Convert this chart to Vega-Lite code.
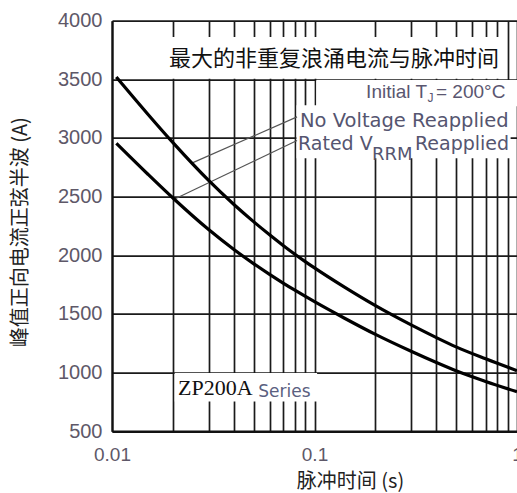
{
  "$schema": "https://vega.github.io/schema/vega-lite/v6.json",
  "autosize": "none",
  "width": 405,
  "height": 410.5,
  "padding": {"left": 112, "top": 20.7, "right": 0, "bottom": 61.8},
  "background": "white",
  "config": {"view": {"stroke": null}},
  "datasets": {
    "curves": [
      {"t": 0.0105, "a": 3520, "s": "No Voltage Reapplied"},
      {"t": 0.015, "a": 3205, "s": "No Voltage Reapplied"},
      {"t": 0.02, "a": 2960, "s": "No Voltage Reapplied"},
      {"t": 0.03, "a": 2638, "s": "No Voltage Reapplied"},
      {"t": 0.04, "a": 2433, "s": "No Voltage Reapplied"},
      {"t": 0.05, "a": 2287, "s": "No Voltage Reapplied"},
      {"t": 0.06, "a": 2175, "s": "No Voltage Reapplied"},
      {"t": 0.07, "a": 2084, "s": "No Voltage Reapplied"},
      {"t": 0.08, "a": 2009, "s": "No Voltage Reapplied"},
      {"t": 0.09, "a": 1946, "s": "No Voltage Reapplied"},
      {"t": 0.1, "a": 1892, "s": "No Voltage Reapplied"},
      {"t": 0.14, "a": 1730, "s": "No Voltage Reapplied"},
      {"t": 0.2, "a": 1570, "s": "No Voltage Reapplied"},
      {"t": 0.3, "a": 1406, "s": "No Voltage Reapplied"},
      {"t": 0.4, "a": 1298, "s": "No Voltage Reapplied"},
      {"t": 0.5, "a": 1219, "s": "No Voltage Reapplied"},
      {"t": 0.7, "a": 1117, "s": "No Voltage Reapplied"},
      {"t": 1.0, "a": 1016, "s": "No Voltage Reapplied"},
      {"t": 0.0105, "a": 2955, "s": "Rated VRRM Reapplied"},
      {"t": 0.015, "a": 2693, "s": "Rated VRRM Reapplied"},
      {"t": 0.02, "a": 2488, "s": "Rated VRRM Reapplied"},
      {"t": 0.03, "a": 2219, "s": "Rated VRRM Reapplied"},
      {"t": 0.04, "a": 2049, "s": "Rated VRRM Reapplied"},
      {"t": 0.05, "a": 1929, "s": "Rated VRRM Reapplied"},
      {"t": 0.06, "a": 1837, "s": "Rated VRRM Reapplied"},
      {"t": 0.07, "a": 1763, "s": "Rated VRRM Reapplied"},
      {"t": 0.08, "a": 1702, "s": "Rated VRRM Reapplied"},
      {"t": 0.1, "a": 1604, "s": "Rated VRRM Reapplied"},
      {"t": 0.14, "a": 1465, "s": "Rated VRRM Reapplied"},
      {"t": 0.2, "a": 1325, "s": "Rated VRRM Reapplied"},
      {"t": 0.3, "a": 1181, "s": "Rated VRRM Reapplied"},
      {"t": 0.4, "a": 1085, "s": "Rated VRRM Reapplied"},
      {"t": 0.5, "a": 1015, "s": "Rated VRRM Reapplied"},
      {"t": 0.7, "a": 924, "s": "Rated VRRM Reapplied"},
      {"t": 1.0, "a": 836, "s": "Rated VRRM Reapplied"}
    ],
    "boxes": [
      {"x1": 0.0186, "x2": 0.85, "y1": 3506, "y2": 3860},
      {"x1": 0.102, "x2": 1.1, "y1": 3270, "y2": 3494},
      {"x1": 0.0815, "x2": 0.93, "y1": 2828, "y2": 3280},
      {"x1": 0.0204, "x2": 0.103, "y1": 754, "y2": 996}
    ],
    "leaders": [
      {"x1": 0.0251, "y1": 2790, "x2": 0.082, "y2": 3180},
      {"x1": 0.0204, "y1": 2480, "x2": 0.082, "y2": 2978}
    ],
    "labels": [
      {"t": 0.1248, "a": 3673, "txt": "最大的非重复浪涌电流与脉冲时间", "kind": "title"},
      {"t": 0.3594, "a": 3338, "txt": "Initial T", "kind": "initR"},
      {"t": 0.3614, "a": 3309, "txt": "J", "kind": "sub"},
      {"t": 0.398, "a": 3338, "txt": "= 200°C", "kind": "initL"},
      {"t": 0.0848, "a": 3096, "txt": "No Voltage Reapplied", "kind": "main2"},
      {"t": 0.0829, "a": 2897, "txt": "Rated V", "kind": "main"},
      {"t": 0.1923, "a": 2812, "txt": "RRM", "kind": "rrm"},
      {"t": 0.3134, "a": 2897, "txt": "Reapplied", "kind": "main"},
      {"t": 0.0212, "a": 807, "txt": "ZP200A", "kind": "serif"},
      {"t": 0.0528, "a": 790, "txt": "Series", "kind": "series"}
    ]
  },
  "layer": [
    {
      "data": {"name": "boxes"},
      "mark": {"type": "rect", "color": "white", "clip": true},
      "encoding": {
        "x": {"field": "x1", "type": "quantitative",
          "scale": {"type": "log", "domain": [0.01, 1], "nice": false},
          "axis": {
            "values": [0.01, 0.02, 0.03, 0.04, 0.05, 0.06, 0.07, 0.08, 0.09, 0.1, 0.2, 0.3, 0.4, 0.5, 0.6, 0.7, 0.8, 0.9, 1],
            "format": "~g",
            "labelExpr": "(datum.value == 0.01 || datum.value == 0.1 || datum.value == 1) ? datum.label : ''",
            "labelFlush": false,
            "labelOverlap": false,
            "labelFont": "Liberation Sans",
            "labelFontSize": 19,
            "labelColor": "#5e5868",
            "labelPadding": 14,
            "ticks": false,
            "grid": true,
            "gridColor": "#1a1a1a",
            "gridWidth": 1.7,
            "gridOpacity": 1,
            "domain": true,
            "domainColor": "#111111",
            "domainWidth": 2.2,
            "title": "脉冲时间 (s)",
            "titleFont": "Noto Sans CJK SC",
            "titleFontSize": 20,
            "titleFontWeight": "normal",
            "titleColor": "#222222",
            "titleX": 238,
            "titleY": 56,
            "titleAlign": "center",
            "titleBaseline": "alphabetic"
          }
        },
        "x2": {"field": "x2"},
        "y": {"field": "y1", "type": "quantitative",
          "scale": {"domain": [500, 4000], "nice": false, "zero": false},
          "axis": {
            "values": [500, 750, 1000, 1250, 1500, 1750, 2000, 2250, 2500, 2750, 3000, 3250, 3500, 3750, 4000],
            "format": "d",
            "labelExpr": "datum.value % 500 == 0 ? datum.label : ''",
            "labelOverlap": false,
            "labelFont": "Liberation Sans",
            "labelFontSize": 20,
            "labelColor": "#5e5868",
            "labelPadding": 10,
            "ticks": false,
            "grid": true,
            "gridColor": "#1a1a1a",
            "gridWidth": 1.7,
            "gridOpacity": 1,
            "domain": true,
            "domainColor": "#111111",
            "domainWidth": 2.2,
            "title": "峰值正向电流正弦半波 (A)",
            "titleFont": "Noto Sans CJK SC",
            "titleFontSize": 20,
            "titleFontWeight": "normal",
            "titleColor": "#222222",
            "titleAngle": 270,
            "titleX": -92,
            "titleY": 211,
            "titleAlign": "center",
            "titleBaseline": "middle"
          }
        },
        "y2": {"field": "y2"}
      }
    },
    {
      "data": {"name": "leaders"},
      "mark": {"type": "rule", "color": "#555555", "strokeWidth": 1.2},
      "encoding": {
        "x": {"field": "x1", "type": "quantitative"},
        "x2": {"field": "x2"},
        "y": {"field": "y1", "type": "quantitative"},
        "y2": {"field": "y2"}
      }
    },
    {
      "data": {"name": "curves"},
      "mark": {"type": "line", "color": "#000000", "strokeWidth": 3.2, "interpolate": "monotone"},
      "encoding": {
        "x": {"field": "t", "type": "quantitative"},
        "y": {"field": "a", "type": "quantitative"},
        "detail": {"field": "s"}
      }
    },
    {
      "data": {"name": "labels"},
      "transform": [{"filter": "datum.kind == 'title'"}],
      "mark": {"type": "text", "font": "Noto Sans CJK SC", "fontSize": 22, "color": "#111111", "align": "center", "baseline": "middle"},
      "encoding": {
        "x": {"field": "t", "type": "quantitative"},
        "y": {"field": "a", "type": "quantitative"},
        "text": {"field": "txt"}
      }
    },
    {
      "data": {"name": "labels"},
      "transform": [{"filter": "datum.kind == 'initR'"}],
      "mark": {"type": "text", "font": "Liberation Sans", "fontSize": 19, "color": "#5a5670", "align": "right", "baseline": "alphabetic"},
      "encoding": {
        "x": {"field": "t", "type": "quantitative"},
        "y": {"field": "a", "type": "quantitative"},
        "text": {"field": "txt"}
      }
    },
    {
      "data": {"name": "labels"},
      "transform": [{"filter": "datum.kind == 'initL'"}],
      "mark": {"type": "text", "font": "Liberation Sans", "fontSize": 19, "color": "#5a5670", "align": "left", "baseline": "alphabetic"},
      "encoding": {
        "x": {"field": "t", "type": "quantitative"},
        "y": {"field": "a", "type": "quantitative"},
        "text": {"field": "txt"}
      }
    },
    {
      "data": {"name": "labels"},
      "transform": [{"filter": "datum.kind == 'sub'"}],
      "mark": {"type": "text", "font": "Liberation Sans", "fontSize": 12, "color": "#5a5670", "align": "left", "baseline": "alphabetic"},
      "encoding": {
        "x": {"field": "t", "type": "quantitative"},
        "y": {"field": "a", "type": "quantitative"},
        "text": {"field": "txt"}
      }
    },
    {
      "data": {"name": "labels"},
      "transform": [{"filter": "datum.kind == 'main2'"}],
      "mark": {"type": "text", "font": "DejaVu Sans", "fontSize": 19.5, "color": "#555570", "align": "left", "baseline": "alphabetic"},
      "encoding": {
        "x": {"field": "t", "type": "quantitative"},
        "y": {"field": "a", "type": "quantitative"},
        "text": {"field": "txt"}
      }
    },
    {
      "data": {"name": "labels"},
      "transform": [{"filter": "datum.kind == 'main'"}],
      "mark": {"type": "text", "font": "DejaVu Sans", "fontSize": 19, "color": "#555570", "align": "left", "baseline": "alphabetic"},
      "encoding": {
        "x": {"field": "t", "type": "quantitative"},
        "y": {"field": "a", "type": "quantitative"},
        "text": {"field": "txt"}
      }
    },
    {
      "data": {"name": "labels"},
      "transform": [{"filter": "datum.kind == 'rrm'"}],
      "mark": {"type": "text", "font": "DejaVu Sans", "fontSize": 18, "color": "#555570", "align": "left", "baseline": "alphabetic"},
      "encoding": {
        "x": {"field": "t", "type": "quantitative"},
        "y": {"field": "a", "type": "quantitative"},
        "text": {"field": "txt"}
      }
    },
    {
      "data": {"name": "labels"},
      "transform": [{"filter": "datum.kind == 'serif'"}],
      "mark": {"type": "text", "font": "Liberation Serif", "fontSize": 22, "color": "#111111", "align": "left", "baseline": "alphabetic"},
      "encoding": {
        "x": {"field": "t", "type": "quantitative"},
        "y": {"field": "a", "type": "quantitative"},
        "text": {"field": "txt"}
      }
    },
    {
      "data": {"name": "labels"},
      "transform": [{"filter": "datum.kind == 'series'"}],
      "mark": {"type": "text", "font": "DejaVu Sans", "fontSize": 17, "color": "#5a6080", "align": "left", "baseline": "alphabetic"},
      "encoding": {
        "x": {"field": "t", "type": "quantitative"},
        "y": {"field": "a", "type": "quantitative"},
        "text": {"field": "txt"}
      }
    }
  ]
}
